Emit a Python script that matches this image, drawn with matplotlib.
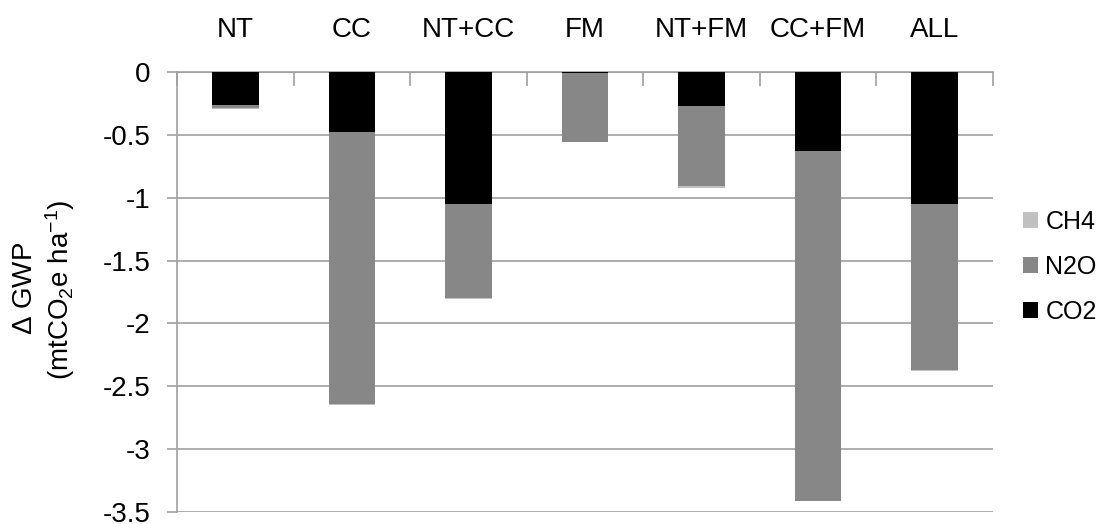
import numpy as np
import matplotlib.pyplot as plt

plt.rcParams['font.family'] = ['Liberation Sans', 'DejaVu Sans']
plt.rcParams['mathtext.fontset'] = 'custom'
plt.rcParams['mathtext.rm'] = 'Liberation Sans'
plt.rcParams['mathtext.it'] = 'Liberation Sans:italic'

categories = ['NT', 'CC', 'NT+CC', 'FM', 'NT+FM', 'CC+FM', 'ALL']
co2 = [-0.26, -0.48, -1.05, -0.01, -0.27, -0.63, -1.05]
n2o = [-0.025, -2.16, -0.75, -0.545, -0.64, -2.78, -1.32]
ch4 = [-0.01, -0.005, -0.005, -0.005, -0.01, -0.005, -0.005]

fig = plt.figure(figsize=(11.1, 5.24), dpi=100)
ax = fig.add_axes([0.1595, 0.0229, 0.735, 0.8397])

x = np.arange(len(categories))
w = 0.4
co2 = np.array(co2)
n2o = np.array(n2o)
ch4 = np.array(ch4)

ax.bar(x, co2, w, color='black', label='CO2', zorder=3)
ax.bar(x, n2o, w, bottom=co2, color='#878787', label='N2O', zorder=3)
ax.bar(x, ch4, w, bottom=co2 + n2o, color='#c0c0c0', label='CH4', zorder=3)

ax.set_xlim(-0.5, len(categories) - 0.5)
ax.set_ylim(-3.5, 0)
ax.set_yticks(np.arange(-3.5, 0.01, 0.5))
ax.set_yticklabels(['-3.5', '-3', '-2.5', '-2', '-1.5', '-1', '-0.5', '0'])
ax.yaxis.grid(True, color='#a0a0a0', linewidth=1.2, zorder=0)

ax.xaxis.tick_top()
ax.set_xticks(x)
ax.set_xticklabels(categories)
ax.set_xticks(np.arange(-0.5, len(categories)), minor=True)
ax.tick_params(axis='x', which='major', length=0, pad=21, labelsize=20)
ax.tick_params(axis='x', which='minor', direction='in', length=10, color='#a0a0a0', width=1.2)
ax.tick_params(axis='y', length=7, color='#a0a0a0', width=1.2, labelsize=20, pad=12)

for s in ['bottom', 'right']:
    ax.spines[s].set_visible(False)
for s in ['top', 'left']:
    ax.spines[s].set_color('#a0a0a0')
    ax.spines[s].set_linewidth(1.2)

# y label as two lines
fig.text(25 / 1110, 1 - 288 / 524, '$\\Delta$ GWP', rotation=90, ha='center', va='center', fontsize=20)
fig.text(60 / 1110, 1 - 290 / 524, '(mtCO$_2$e ha$^{-1}$)', rotation=90, ha='center', va='center', fontsize=20)

h, l = ax.get_legend_handles_labels()
ax.legend(h[::-1], l[::-1], loc='center left', bbox_to_anchor=(1.0, 0.557), frameon=False,
          fontsize=18, handlelength=0.6, handleheight=0.6, handletextpad=0.3, labelspacing=0.85,
          borderaxespad=0.8)

fig.savefig('out.png', dpi=100)
